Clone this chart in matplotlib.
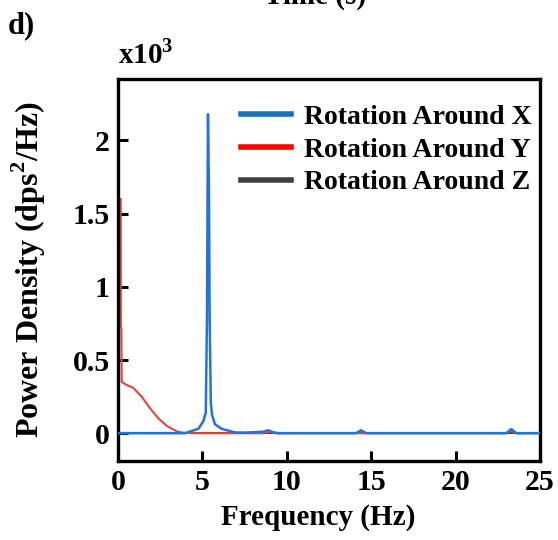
import numpy as np
import matplotlib.pyplot as plt
from matplotlib.lines import Line2D

plt.rcParams['font.family'] = ['Liberation Serif', 'DejaVu Serif']
plt.rcParams['font.weight'] = 'bold'
plt.rcParams['mathtext.fontset'] = 'custom'
plt.rcParams['mathtext.rm'] = 'Liberation Serif:bold'

# frequency (Hz) / power density (x10^3 dps^2/Hz)
freq_x = [0, 3.97, 4.76, 5.05, 5.2, 5.27, 5.33, 5.39, 5.43, 5.5, 5.58, 5.75, 6.14, 6.93,
          7.5, 8.6, 8.9, 9.2, 9.5, 14.1, 14.4, 14.7, 23.0, 23.3, 23.6, 25]
rot_x = [0, 0, 0.03, 0.08, 0.14, 0.78, 2.18, 1.64, 0.78, 0.2, 0.12, 0.06, 0.03, 0.005,
         0.004, 0.01, 0.02, 0.006, 0, 0, 0.02, 0, 0, 0.028, 0, 0]

freq_y = [0.16, 0.17, 0.2, 0.22, 0.5, 0.9, 1.4, 1.9, 2.4, 2.9, 3.2, 3.5, 3.8, 4.5, 8.7, 9.0, 9.3,
          23.0, 23.3, 23.6, 25]
rot_y = [1.6, 0.73, 0.72, 0.35, 0.33, 0.31, 0.25, 0.17, 0.1, 0.05, 0.03, 0.012, 0.004, 0, 0, 0.012, 0,
         0, 0.015, 0, 0]

freq_z = [0, 25]
rot_z = [0, 0]

fig = plt.figure(figsize=(5.58, 5.40), dpi=100)
ax = fig.add_axes([118/558, 1 - 461/540, (540-118)/558, (461-79)/540])

ax.plot(freq_z, rot_z, color='#404040', lw=1.5, zorder=1)
ax.plot(freq_y, rot_y, color='#e8433a', lw=1.5, zorder=2)
ax.plot(freq_x, rot_x, color='#2673d6', lw=1.8, zorder=3)

ax.set_xlim(0, 25)
ax.set_ylim(-0.19, 2.42)
ax.set_xticks([0, 5, 10, 15, 20, 25])
ax.set_yticks([0, 0.5, 1, 1.5, 2])
ax.set_yticklabels(['0', '0.5', '1', '1.5', '2'])
ax.tick_params(direction='in', length=7, width=2.2, labelsize=21.5, pad=6)
for s in ax.spines.values():
    s.set_linewidth(2.4)

ax.set_xlabel('Frequency (Hz)', fontsize=21, fontweight='bold')
ax.xaxis.set_label_coords(0.474, -0.113)
ax.set_ylabel('Power Density (dps$^2$/Hz)', fontsize=23, fontweight='bold')
ax.yaxis.set_label_coords(-0.166, 0.5)

handles = [Line2D([], [], color='#1a70c0', lw=4),
           Line2D([], [], color='#ff0000', lw=4),
           Line2D([], [], color='#404040', lw=4)]
ax.legend(handles, ['Rotation Around X', 'Rotation Around Y', 'Rotation Around Z'],
          loc='upper right', frameon=False, fontsize=20, handlelength=1.8,
          handletextpad=0.45, labelspacing=0.26, borderaxespad=0, borderpad=0.3,
          bbox_to_anchor=(1.0, 0.955))

fig.text(118/558, 1 - 63/540, 'x10$^3$', fontsize=21, fontweight='bold', va='baseline', ha='left')
fig.text(8/558, 1 - 33/540, 'd)', fontsize=22, fontweight='bold', va='baseline', ha='left')
fig.text(315/558, 1 - 4/540, 'Time (s)', fontsize=21, fontweight='bold', va='baseline', ha='center')

plt.savefig('out.png', dpi=100)
